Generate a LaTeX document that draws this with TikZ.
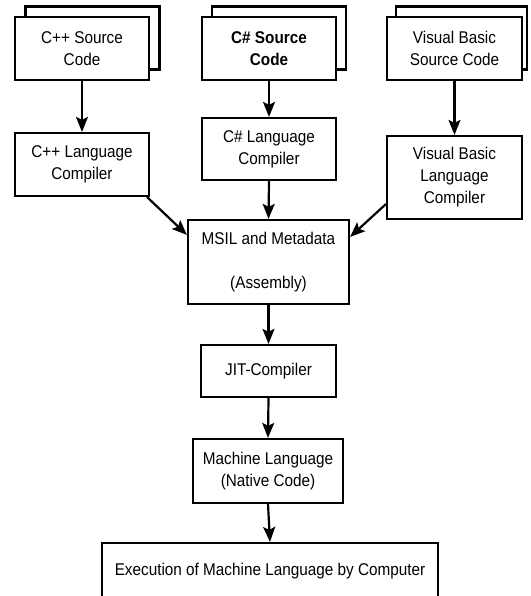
\documentclass[tikz,border=0pt]{standalone}
\usepackage{fontspec}
\setmainfont{Liberation Sans}[FakeStretch=0.9]
\usetikzlibrary{arrows.meta,calc}
\begin{document}
\begin{tikzpicture}[x=1pt,y=-1pt,
  box/.style={draw=black,line width=2.2pt,fill=white,inner sep=0pt,align=center,
    font=\fontsize{17}{22}\selectfont,minimum width=134pt},
  arr/.style={line width=2.2pt,-{Stealth[length=15pt,width=12pt,inset=3pt]}}]
\clip (0,0) rectangle (530,596);
\fill[white] (0,0) rectangle (530,596);
% source boxes (back pages)
\node[box,minimum height=63pt] (cppback) at (92.5,38) {};
\node[box,minimum height=63pt] (csback) at (279,38) {};
\node[box,minimum height=63pt,minimum width=131pt] (vbback) at (461.5,38) {};
% source boxes (front)
\node[box,minimum height=63pt] (cppsrc) at (82,48.5) {C++ Source\\Code};
\node[box,minimum height=63pt] (cssrc) at (269,48.5) {\bfseries C\# Source\\\bfseries Code};
\node[box,minimum height=63pt,minimum width=135pt] (vbsrc) at (454.5,48.5) {Visual Basic\\Source Code};
% compilers
\node[box,minimum height=63pt] (cppcomp) at (82,164.5) {C++ Language\\Compiler};
\node[box,minimum height=62pt] (cscomp) at (269,149) {C\# Language\\Compiler};
\node[box,minimum height=83pt,minimum width=135pt] (vbcomp) at (454.5,177.5) {Visual Basic\\Language\\Compiler};
% pipeline
\node[box,minimum height=84pt,minimum width=161pt] (msil) at (268.5,262) {MSIL and Metadata\\[22pt](Assembly)};
\node[box,minimum height=52pt,minimum width=135pt] (jit) at (268.5,371) {JIT-Compiler};
\node[box,minimum height=64pt,minimum width=150pt] (mach) at (268,471) {Machine Language\\(Native Code)};
\node[box,minimum height=57pt,minimum width=336pt] (exec) at (270,571.5) {Execution of Machine Language by Computer};
% connectors
\draw[arr] (cppsrc.south) -- (cppcomp.north);
\draw[arr] (cssrc.south) -- (cscomp.north);
\draw[arr] (vbsrc.south) -- (vbcomp.north);
\draw[arr] ($(cppcomp.south east)+(-3,0)$) -- ($(msil.north west)+(0,16)$);
\draw[arr] (cscomp.south) -- (msil.north);
\draw[arr] ($(vbcomp.south west)+(0,-16)$) -- ($(msil.north east)+(0,18)$);
\draw[arr] (msil.south) -- (jit.north);
\draw[arr] (jit.south) -- (mach.north);
\draw[arr] (mach.south) -- (exec.north);
\end{tikzpicture}
\end{document}
